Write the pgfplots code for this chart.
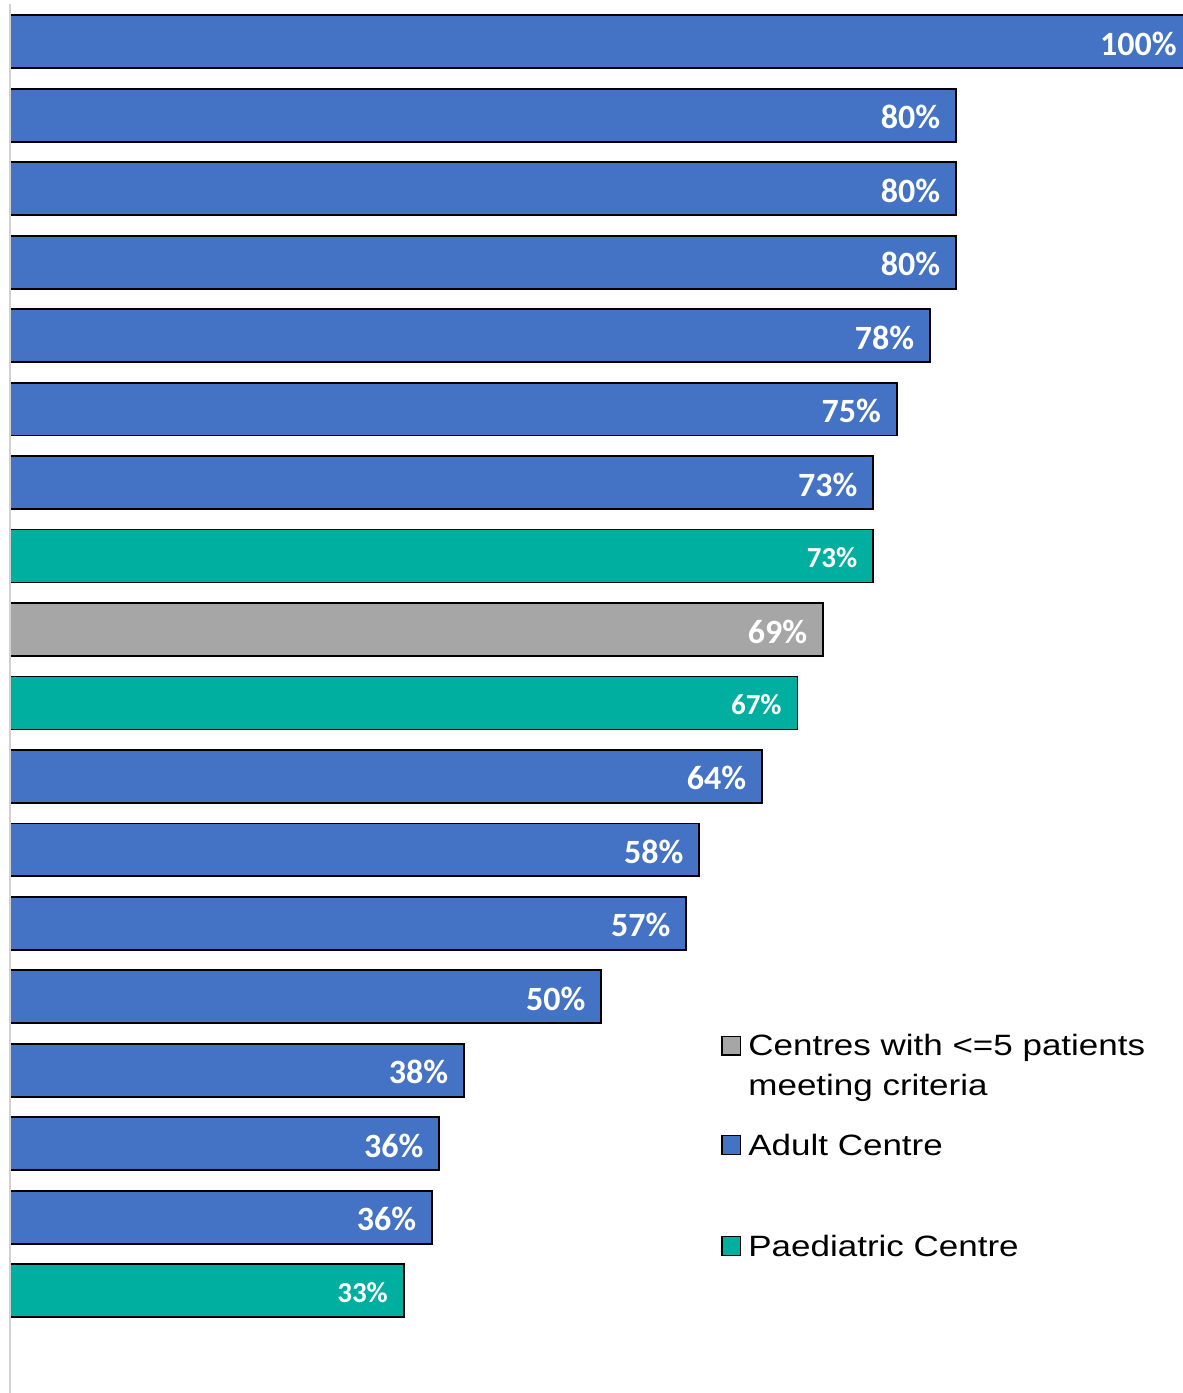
\documentclass[border=0pt]{standalone}
\usepackage{pgfplots}
\usepackage{pgfplotstable}
\pgfplotsset{compat=1.18}
\usepackage{fontspec}
\setmainfont{Liberation Sans}
\newfontfamily\calib{Carlito}
\definecolor{adult}{HTML}{4472C4}
\definecolor{paed}{HTML}{00AFA0}
\definecolor{smallc}{HTML}{A6A6A6}

\pgfplotstableread{
y x lab
0 100 100
1 80 80
2 80 80
3 80 80
4 77.8 78
5 75 75
6 73 73
10 63.6 64
11 58.3 58
12 57.2 57
13 50 50
14 38.4 38
15 36.3 36
16 35.7 36
}\adultdata

\pgfplotstableread{
y x lab
7 73 73
9 66.6 67
17 33.3 33
}\paeddata

\pgfplotstableread{
y x lab
8 68.75 69
}\smalldata

\begin{document}
\begin{tikzpicture}
\useasboundingbox (0,0) rectangle (591.5pt,696.5pt);
\begin{axis}[
  at={(5pt,0pt)}, anchor=south west,
  scale only axis, width=586.5pt, height=694.5pt,
  xmin=0, xmax=99.2, ymin=-0.515, ymax=18.394, y dir=reverse,
  axis lines=none, clip=false,
  xbar, bar width=0.72, bar shift=0pt,
  point meta=explicit symbolic,
  nodes near coords={\pgfplotspointmeta\%},
  every node near coord/.append style={anchor=east, inner sep=0pt, xshift=-7.5pt, yshift=-1pt, text=white,
     font=\calib\bfseries\fontsize{17}{17}\selectfont},
]
\addplot[draw=black, line width=0.9pt, fill=adult] table[x=x, y=y, meta=lab] {\adultdata};
\addplot[draw=black, line width=0.9pt, fill=paed,
  every node near coord/.append style={font=\calib\bfseries\fontsize{14.5}{14.5}\selectfont}] table[x=x, y=y, meta=lab] {\paeddata};
\addplot[draw=black, line width=0.9pt, fill=smallc] table[x=x, y=y, meta=lab] {\smalldata};
\draw[color=black!18, line width=1pt] (rel axis cs:0,0) -- (rel axis cs:0,1);
\end{axis}
% legend
\filldraw[fill=smallc, draw=black, line width=0.6pt] (361pt,169pt) rectangle (370.3pt,178.3pt);
\filldraw[fill=adult, draw=black, line width=0.6pt] (361pt,119.3pt) rectangle (370.3pt,128.6pt);
\filldraw[fill=paed, draw=black, line width=0.6pt] (361pt,68.8pt) rectangle (370.3pt,78.1pt);
\node[anchor=base west, inner sep=0pt, font=\fontsize{14.7}{20}\selectfont] at (374pt,168.5pt)
  {\scalebox{1.19}[1]{\begin{tabular}[t]{@{}l@{}}Centres with <=5 patients\\meeting criteria\end{tabular}}};
\node[anchor=base west, inner sep=0pt, font=\fontsize{14.7}{20}\selectfont] at (374pt,118.5pt)
  {\scalebox{1.19}[1]{Adult Centre}};
\node[anchor=base west, inner sep=0pt, font=\fontsize{14.7}{20}\selectfont] at (374pt,68pt)
  {\scalebox{1.19}[1]{Paediatric Centre}};
\end{tikzpicture}
\end{document}
